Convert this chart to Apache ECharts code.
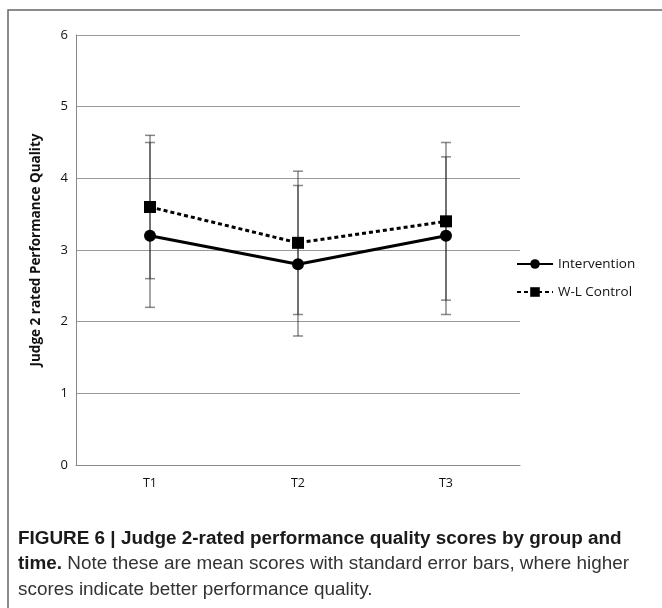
<!DOCTYPE html>
<html>
<head>
<meta charset="utf-8">
<script src="https://cdn.jsdelivr.net/npm/echarts@6/dist/echarts.min.js"></script>
<style>
html,body{margin:0;padding:0;background:#fff;}
#c{width:662px;height:608px;}
</style>
</head>
<body>
<div id="c"></div>
<script>
var categories = ['T1', 'T2', 'T3'];
var yTicks = [0, 1, 2, 3, 4, 5, 6];
var interventionMean = [3.2, 2.8, 3.2];
var interventionLow = [2.2, 1.8, 2.1];
var interventionHigh = [4.5, 3.9, 4.3];
var controlMean = [3.6, 3.1, 3.4];
var controlLow = [2.6, 2.1, 2.3];
var controlHigh = [4.6, 4.1, 4.5];

function errData(low, high) {
  return categories.map(function (c, i) { return [i, low[i], high[i]]; });
}
function errRender(params, api) {
  var x = api.value(0);
  var lo = api.coord([x, api.value(1)]);
  var hi = api.coord([x, api.value(2)]);
  var hw = 5;
  var style = { stroke: 'rgba(40,40,40,0.55)', lineWidth: 1.5, fill: null };
  return {
    type: 'group',
    children: [
      { type: 'line', shape: { x1: lo[0], y1: lo[1], x2: hi[0], y2: hi[1] }, style: style },
      { type: 'line', shape: { x1: lo[0] - hw, y1: lo[1], x2: lo[0] + hw, y2: lo[1] }, style: style },
      { type: 'line', shape: { x1: hi[0] - hw, y1: hi[1], x2: hi[0] + hw, y2: hi[1] }, style: style }
    ]
  };
}

var chart = echarts.init(document.getElementById('c'), null, { renderer: 'canvas' });
var capFont = 'Liberation Sans, Arial, sans-serif';
chart.setOption({
  animation: false,
  backgroundColor: '#fff',
  grid: { left: 76, right: 142, top: 35, bottom: 143 },
  legend: {
    orient: 'vertical',
    left: 511,
    top: 252,
    itemWidth: 36,
    itemHeight: 12,
    itemGap: 14,
    textStyle: { fontSize: 13.5, color: '#111', fontFamily: 'Open Sans, sans-serif' },
    data: ['Intervention', 'W-L Control']
  },
  xAxis: {
    type: 'category',
    data: categories,
    boundaryGap: true,
    axisLine: { lineStyle: { color: '#888', width: 1 } },
    axisTick: { show: false },
    axisLabel: { fontSize: 12.5, color: '#111', margin: 12, fontFamily: 'Open Sans, sans-serif' }
  },
  yAxis: {
    type: 'value',
    min: yTicks[0],
    max: yTicks[yTicks.length - 1],
    interval: 1,
    name: 'Judge 2 rated Performance Quality',
    nameLocation: 'middle',
    nameGap: 33,
    nameTextStyle: { fontSize: 13.5, fontWeight: 'bold', color: '#111', fontFamily: 'Open Sans, sans-serif' },
    axisLine: { show: true, lineStyle: { color: '#888', width: 1 } },
    axisTick: { show: false },
    splitLine: { lineStyle: { color: '#999', width: 1 } },
    axisLabel: { fontSize: 13, color: '#111', margin: 8, fontFamily: 'Open Sans, sans-serif' }
  },
  series: [
    {
      type: 'custom',
      name: 'errInt',
      renderItem: errRender,
      data: errData(interventionLow, interventionHigh),
      z: 1,
      silent: true
    },
    {
      type: 'custom',
      name: 'errCtl',
      renderItem: errRender,
      data: errData(controlLow, controlHigh),
      z: 1,
      silent: true
    },
    {
      type: 'line',
      name: 'Intervention',
      data: interventionMean,
      symbol: 'circle',
      symbolSize: 12,
      lineStyle: { color: '#000', width: 3, type: 'solid' },
      itemStyle: { color: '#000' },
      z: 3
    },
    {
      type: 'line',
      name: 'W-L Control',
      data: controlMean,
      symbol: 'rect',
      symbolSize: 12,
      lineStyle: { color: '#000', width: 3, type: [4, 3] },
      itemStyle: { color: '#000' },
      z: 3
    }
  ],
  graphic: [
    {
      type: 'rect',
      shape: { x: 8, y: 10, width: 700, height: 700 },
      style: { fill: null, stroke: '#666', lineWidth: 1.5 },
      silent: true,
      z: -1
    },
    {
      type: 'text',
      left: 18,
      top: 529,
      style: {
        text: '{b|FIGURE 6 | Judge 2-rated performance quality scores by group and}\n{b|time.}{r| Note these are mean scores with standard error bars, where higher}\n{r|scores indicate better performance quality.}',
        rich: {
          b: { fontFamily: capFont, fontWeight: 'bold', fontSize: 18.9, lineHeight: 25.5, fill: '#1a1a1a' },
          r: { fontFamily: capFont, fontSize: 18.9, lineHeight: 25.5, fill: '#333' }
        }
      }
    }
  ]
});
</script>
</body>
</html>
